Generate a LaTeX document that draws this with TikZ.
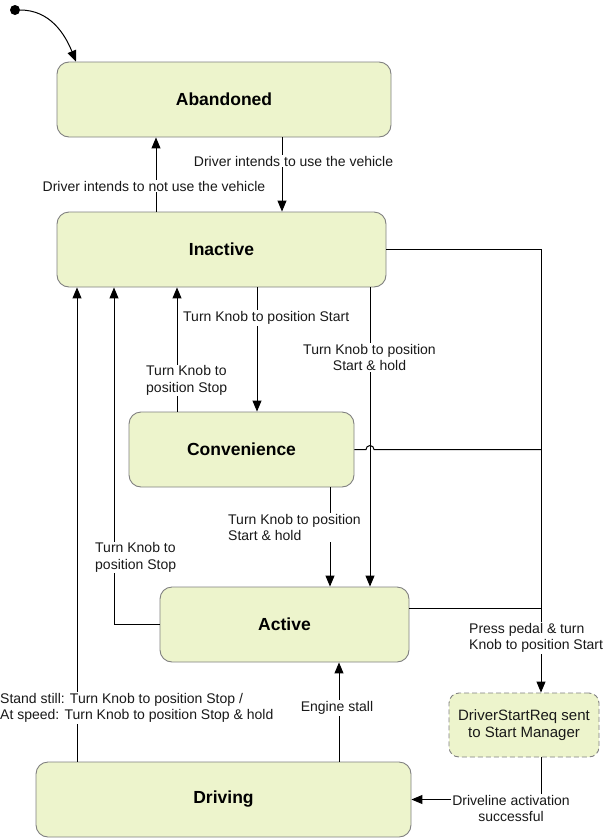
\documentclass[tikz,border=0pt]{standalone}
\usepackage{fontspec}
\setmainfont{Liberation Sans}
\usetikzlibrary{arrows.meta,calc}
\definecolor{stfill}{RGB}{237,244,204}
\definecolor{stdraw}{RGB}{128,128,128}
\definecolor{txt}{RGB}{25,25,25}
\begin{document}
\begin{tikzpicture}[x=1pt,y=-1pt,
  state/.style={draw=stdraw,fill=stfill,rounded corners=12pt,line width=0.9pt,
    font=\fontsize{17.5}{20}\selectfont\bfseries,inner sep=0,minimum height=75pt},
  dstate/.style={draw=stdraw,fill=stfill,rounded corners=10pt,line width=0.9pt,
    dash pattern=on 5pt off 3pt,font=\fontsize{15}{17.5}\selectfont,align=center,
    inner sep=0,minimum width=150pt,minimum height=64pt,text=txt},
  arr/.style={-{Triangle[length=11pt,width=9pt]},line width=1pt},
  ln/.style={line width=1pt},
  lab/.style={fill=white,inner sep=1pt,text=txt,font=\fontsize{14}{16.5}\selectfont},
]
\useasboundingbox (0,0) rectangle (608,838);

% states
\node[state,minimum width=334pt] (aband) at (224,99.5) {Abandoned};
\node[state,minimum width=329pt] (inact) at (221.5,249.5) {Inactive};
\node[state,minimum width=225pt] (conv) at (241.5,449.5) {Convenience};
\node[state,minimum width=249pt] (active) at (284.5,624.5) {Active};
\node[state,minimum width=375pt] (driving) at (223.5,799.5) {Driving};
\node[dstate] (dreq) at (524,725) {DriverStartReq sent\\to Start Manager};

% initial
\node[circle,fill=black,inner sep=0,minimum size=10pt] (init) at (15,10) {};
\coordinate (c76) at (76,0);
\draw[arr] (init) to[out=0,in=112] (c76 |- aband.north);

% helper x-coordinates
\coordinate (c77) at (77,0);
\coordinate (c114) at (114,0);
\coordinate (c156) at (156,0);
\coordinate (c177) at (177,0);
\coordinate (c257) at (257,0);
\coordinate (c282) at (282,0);
\coordinate (c330) at (330,0);
\coordinate (c339) at (339,0);
\coordinate (c366) at (366,0);
\coordinate (c370) at (370,0);
\coordinate (c541) at (541,0);
\coordinate (y608) at (0,608);

% Abandoned <-> Inactive
\draw[arr] (c156 |- inact.north) -- (c156 |- aband.south);
\draw[arr] (c282 |- aband.south) -- (c282 |- inact.north);
\node[lab] (l1) at (154,186) {Driver intends to not use the vehicle};
\node[lab] (l2) at (293.5,161) {Driver intends to use the vehicle};

% Inactive <-> Convenience
\draw[arr] (c257 |- inact.south) -- (c257 |- conv.north);
\draw[arr] (c177 |- conv.north) -- (c177 |- inact.south);
\node[lab,anchor=west] (l3) at (182,318) {Turn Knob to position Start};
\node[lab,anchor=west,align=left] (l4) at (145,380.5) {Turn Knob to\\position Stop};

% Inactive -> Active
\draw[arr] (c370 |- inact.south) -- (c370 |- active.north);
\node[lab,align=center] (l5) at (369.5,357.5) {Turn Knob to position\\Start \& hold};

% Convenience -> Active
\draw[arr] (c330 |- conv.south) -- (c330 |- active.north);
\node[lab,anchor=west,align=left] (l6) at (227,527.5) {Turn Knob to position\\Start \& hold};

% Active -> Inactive
\draw[arr] (active.west) -| (c114 |- inact.south);
\node[lab,anchor=west,align=left] (l7) at (94,557.5) {Turn Knob to\\position Stop};

% Driving -> Inactive
\draw[arr] (c77 |- driving.north) -- (c77 |- inact.south);
\node[lab,anchor=west,align=left] (l8) at (-1,708) {Stand still: Turn Knob to position Stop /\\At speed: Turn Knob to position Stop \& hold};

% Driving -> Active
\draw[arr] (c339 |- driving.north) -- (c339 |- active.south);
\node[lab] (l9) at (337,708) {Engine stall};

% to DriverStartReq
\draw[arr] (inact.east) -| (c541 |- dreq.north);
\draw[ln] (conv.east) -- (c366 |- conv.east) arc[start angle=180,end angle=0,radius=4pt] -- (c541 |- conv.east);
\draw[ln] (active.east |- y608) -- (c541 |- y608);
\node[lab,anchor=west,align=left] (l10) at (468,638) {Press pedal \& turn\\Knob to position Start};

% DriverStartReq -> Driving
\draw[arr] (c541 |- dreq.south) |- (driving.east);
\node[lab,align=center] (l11) at (511,808.5) {Driveline activation\\successful};
\end{tikzpicture}
\end{document}
